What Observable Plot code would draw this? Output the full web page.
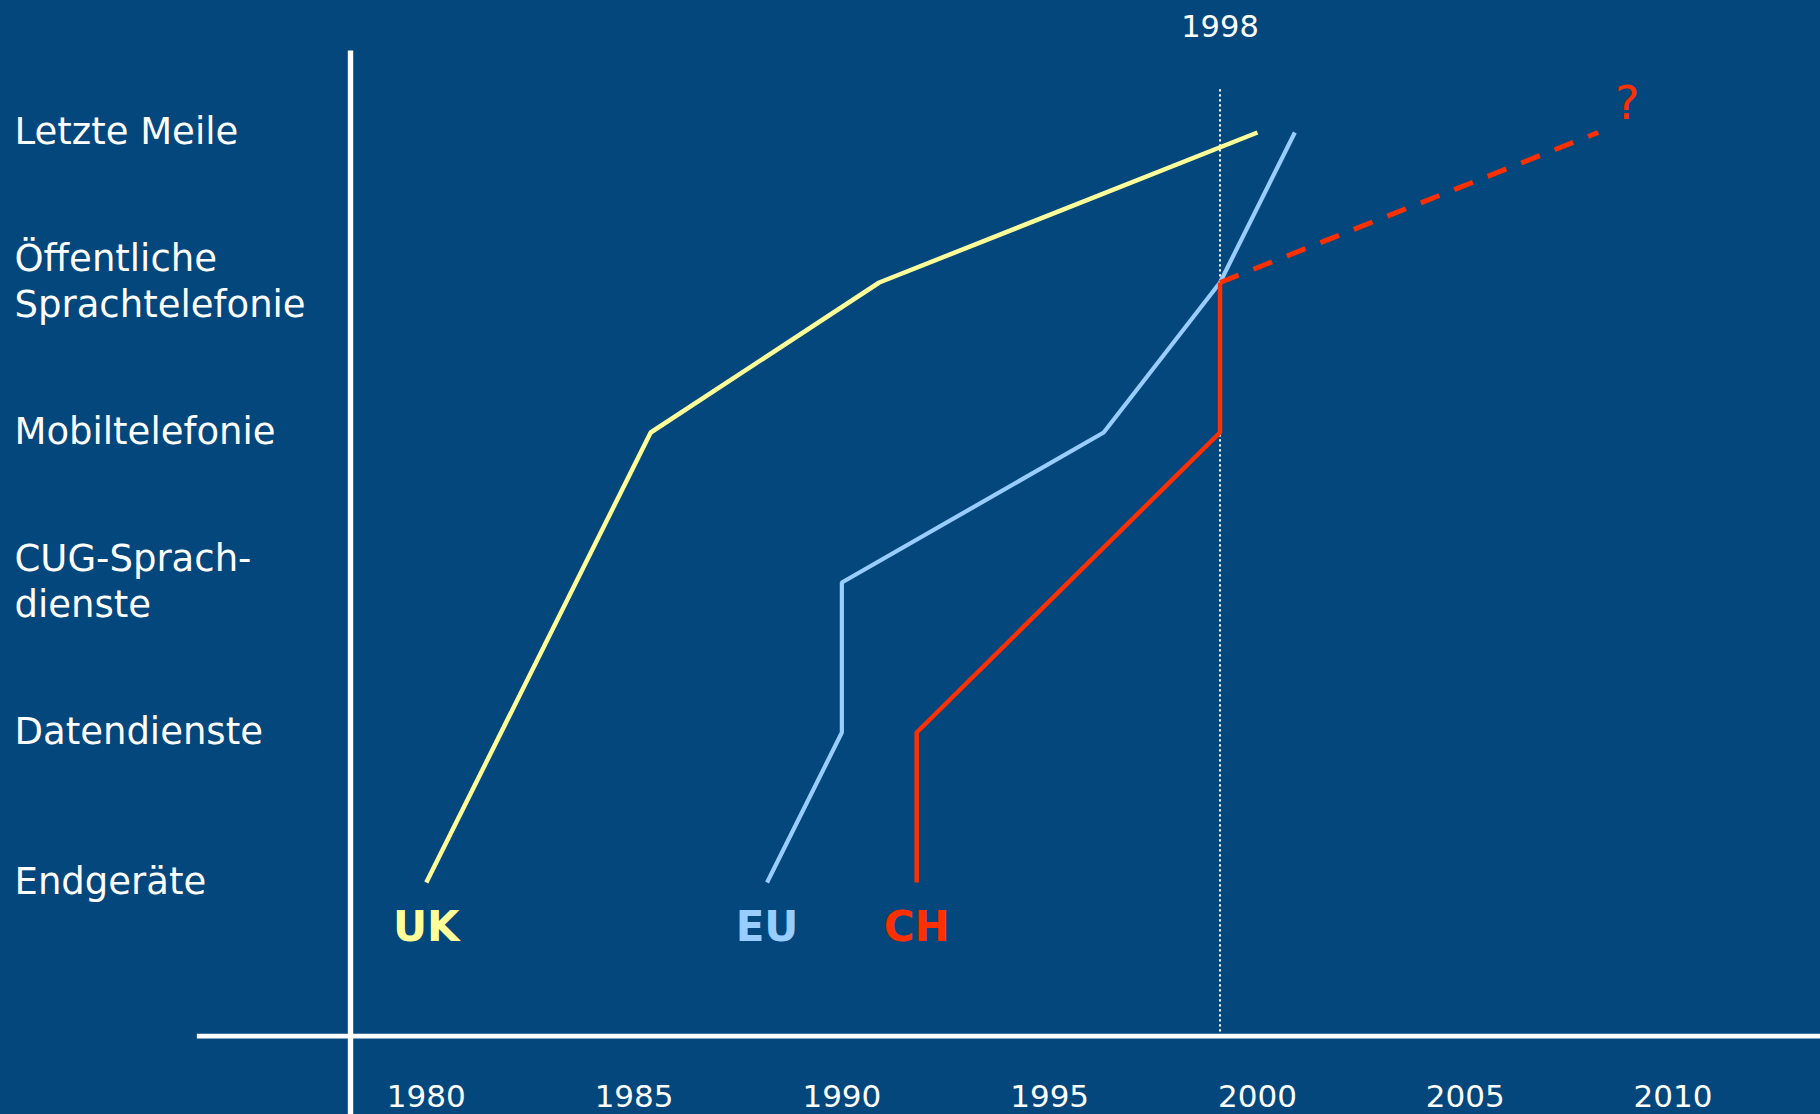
<!DOCTYPE html>
<html>
<head>
<meta charset="utf-8">
<script src="https://cdn.jsdelivr.net/npm/d3@7"></script>
<script src="https://cdn.jsdelivr.net/npm/@observablehq/plot@0.6"></script>
<style>
  html, body { margin: 0; padding: 0; background: #03477c; overflow: hidden; }
  svg { display: block; }
</style>
</head>
<body>
<div id="chart"></div>
<script>
// ---- data ----
const categories = ["Letzte Meile", "Öffentliche Sprachtelefonie", "Mobiltelefonie", "CUG-Sprachdienste", "Datendienste", "Endgeräte"];
const categoryLabels = ["Letzte Meile", "Öffentliche\nSprachtelefonie", "Mobiltelefonie", "CUG-Sprach-\ndienste", "Datendienste", "Endgeräte"];
const xTicks = [1980, 1985, 1990, 1995, 2000, 2005, 2010];

const ukYears = [1980, 1985.4, 1990.9, 2000.0];
const ukStages = ["Endgeräte", "Mobiltelefonie", "Öffentliche Sprachtelefonie", "Letzte Meile"];

const euYears = [1988.2, 1990, 1990, 1996.3, 1999.1, 2000.9];
const euStages = ["Endgeräte", "Datendienste", "CUG-Sprachdienste", "Mobiltelefonie", "Öffentliche Sprachtelefonie", "Letzte Meile"];

const chYears = [1991.8, 1991.8, 1999.1, 1999.1];
const chStages = ["Endgeräte", "Datendienste", "Mobiltelefonie", "Öffentliche Sprachtelefonie"];

const chForecastYears = [1999.1, 2008.2];
const chForecastStages = ["Öffentliche Sprachtelefonie", "Letzte Meile"];

const markerYear = 1999.1;      // position of the dotted marker as drawn
const markerLabel = "1998";
const questionYear = 2008.9;
const questionText = "?";

const seriesNames = ["UK", "EU", "CH"];
const seriesColors = ["#ffff99", "#99ccff", "#ff3000"];
const bg = "#03477c";

// ---- build tables ----
const rows = (years, stages) => years.map((x, i) => ({x, y: stages[i]}));
const uk = rows(ukYears, ukStages);
const eu = rows(euYears, euStages);
const ch = rows(chYears, chStages);
const chF = rows(chForecastYears, chForecastStages);

const lineOpts = {x: "x", y: "y", strokeWidth: 4.5, strokeLinejoin: "miter", strokeLinecap: "butt"};
const labelOpts = {x: "x", y: "y", dy: 45, fontSize: 42, fontWeight: "bold", textAnchor: "middle"};

const chart = Plot.plot({
  width: 1820,
  height: 1114,
  marginTop: 52.7,
  marginLeft: 350,
  marginRight: 0,
  marginBottom: 78.3,
  style: {background: bg, color: "white", fontFamily: "'DejaVu Sans', Verdana, sans-serif"},
  x: {domain: [1980, 2010], insetLeft: 75.8, insetRight: 147.5},
  y: {type: "point", domain: categories, padding: 0, insetTop: 77.8, insetBottom: 151.7},
  marks: [
    Plot.frame({anchor: "left", stroke: "white", strokeWidth: 5.4, insetBottom: -78.3}),
    Plot.frame({anchor: "bottom", stroke: "white", strokeWidth: 4.7, insetLeft: -151.3}),
    Plot.ruleX([markerYear], {stroke: "white", strokeWidth: 2, strokeDasharray: "2.3,2.7", insetTop: 36.6}),
    Plot.text([markerLabel], {x: () => markerYear, frameAnchor: "top", lineAnchor: "middle", text: d => d, dy: -26, fontSize: 30.5, fill: "white"}),
    Plot.axisX({ticks: xTicks, tickSize: 0, tickPadding: 49, fontSize: 31, tickFormat: d => String(d), label: null}),
    Plot.axisY({tickSize: 0, tickPadding: 336, textAnchor: "start", fontSize: 37, lineHeight: 1.24, dy: -3,
      tickFormat: d => categoryLabels[categories.indexOf(d)], label: null}),
    Plot.line(uk, {...lineOpts, stroke: seriesColors[0]}),
    Plot.line(eu, {...lineOpts, stroke: seriesColors[1], strokeWidth: 4.2}),
    Plot.line(ch, {...lineOpts, stroke: seriesColors[2]}),
    Plot.line(chF, {...lineOpts, stroke: seriesColors[2], strokeWidth: 5, strokeDasharray: "20,16"}),
    Plot.text([uk[0]], {...labelOpts, text: () => seriesNames[0], fill: seriesColors[0]}),
    Plot.text([eu[0]], {...labelOpts, text: () => seriesNames[1], fill: seriesColors[1]}),
    Plot.text([ch[0]], {...labelOpts, text: () => seriesNames[2], fill: seriesColors[2]}),
    Plot.text([questionText], {x: () => questionYear, y: () => "Letzte Meile", text: d => d, dy: -28, fontSize: 46, fill: seriesColors[2]})
  ]
});
document.getElementById("chart").appendChild(chart);
</script>
</body>
</html>
